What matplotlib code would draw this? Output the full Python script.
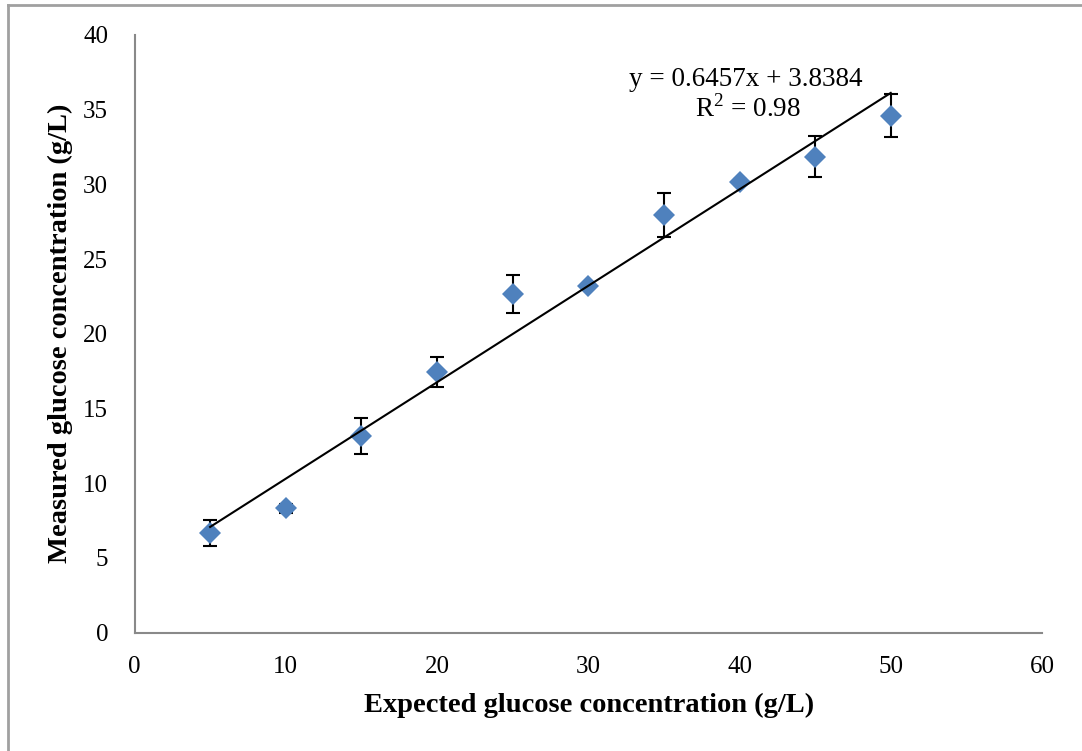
import matplotlib
matplotlib.use("Agg")
import matplotlib.pyplot as plt
import numpy as np
from matplotlib.lines import Line2D

expected = [5, 10, 15, 20, 25, 30, 35, 40, 45, 50]
measured = [6.66, 8.33, 13.15, 17.42, 22.66, 23.21, 27.94, 30.17, 31.85, 34.59]
errors = [0.84, 0.3, 1.22, 1.0, 1.25, 0.15, 1.45, 0.2, 1.38, 1.43]
slope, intercept = 0.6457, 3.8384
x_ticks = [0, 10, 20, 30, 40, 50, 60]
y_ticks = [0, 5, 10, 15, 20, 25, 30, 35, 40]

plt.rcParams['font.family'] = ['Liberation Serif', 'DejaVu Serif']
plt.rcParams['mathtext.fontset'] = 'custom'
plt.rcParams['mathtext.rm'] = 'Liberation Serif'

W, H = 1082, 751
fig = plt.figure(figsize=(W/100, H/100), dpi=100)
ax = fig.add_axes([134.5/W, (H-632.5)/H, (1042-134.5)/W, (632.5-35)/H])

ax.errorbar(expected, measured, yerr=errors, fmt='none', ecolor='black',
            elinewidth=1.5, capsize=4.8, capthick=1.5, zorder=2)
ax.plot(expected, measured, linestyle='none', marker='D', markersize=11.5,
        color='#4F81BD', markeredgewidth=0, zorder=3)

xs = np.array([expected[0], expected[-1]])
ax.plot(xs, slope*xs + intercept, color='black', linewidth=1.5, zorder=4)

fig.text(746/W, 1-80/H, 'y = 0.6457x + 3.8384', fontsize=19.5,
         ha='center', va='center')
fig.text(748/W, 1-109/H, 'R$^{2}$ = 0.98', fontsize=19.5,
         ha='center', va='center')

ax.set_xlim(0, 60)
ax.set_ylim(0, 40)
ax.set_xticks(x_ticks)
ax.set_yticks(y_ticks)
ax.tick_params(length=0, labelsize=18)
ax.tick_params(axis='x', pad=17)
ax.tick_params(axis='y', pad=19)
for s in ['top', 'right']:
    ax.spines[s].set_visible(False)
for s in ['left', 'bottom']:
    ax.spines[s].set_color('#898989')
    ax.spines[s].set_linewidth(1.5)

fig.text(589/W, 1-705/H, 'Expected glucose concentration (g/L)', fontsize=20.5,
         fontweight='bold', ha='center', va='center')
fig.text(60/W, 1-333/H, 'Measured glucose concentration (g/L)', fontsize=20.5,
         fontweight='bold', ha='center', va='center', rotation=90)

# figure border (left and top)
fig.add_artist(Line2D([8/W, 8/W], [0, 1-5/H], color='#A0A0A0', linewidth=2, transform=fig.transFigure))
fig.add_artist(Line2D([8/W, 1], [1-5/H, 1-5/H], color='#A0A0A0', linewidth=2, transform=fig.transFigure))

fig.savefig('out.png', dpi=100)
